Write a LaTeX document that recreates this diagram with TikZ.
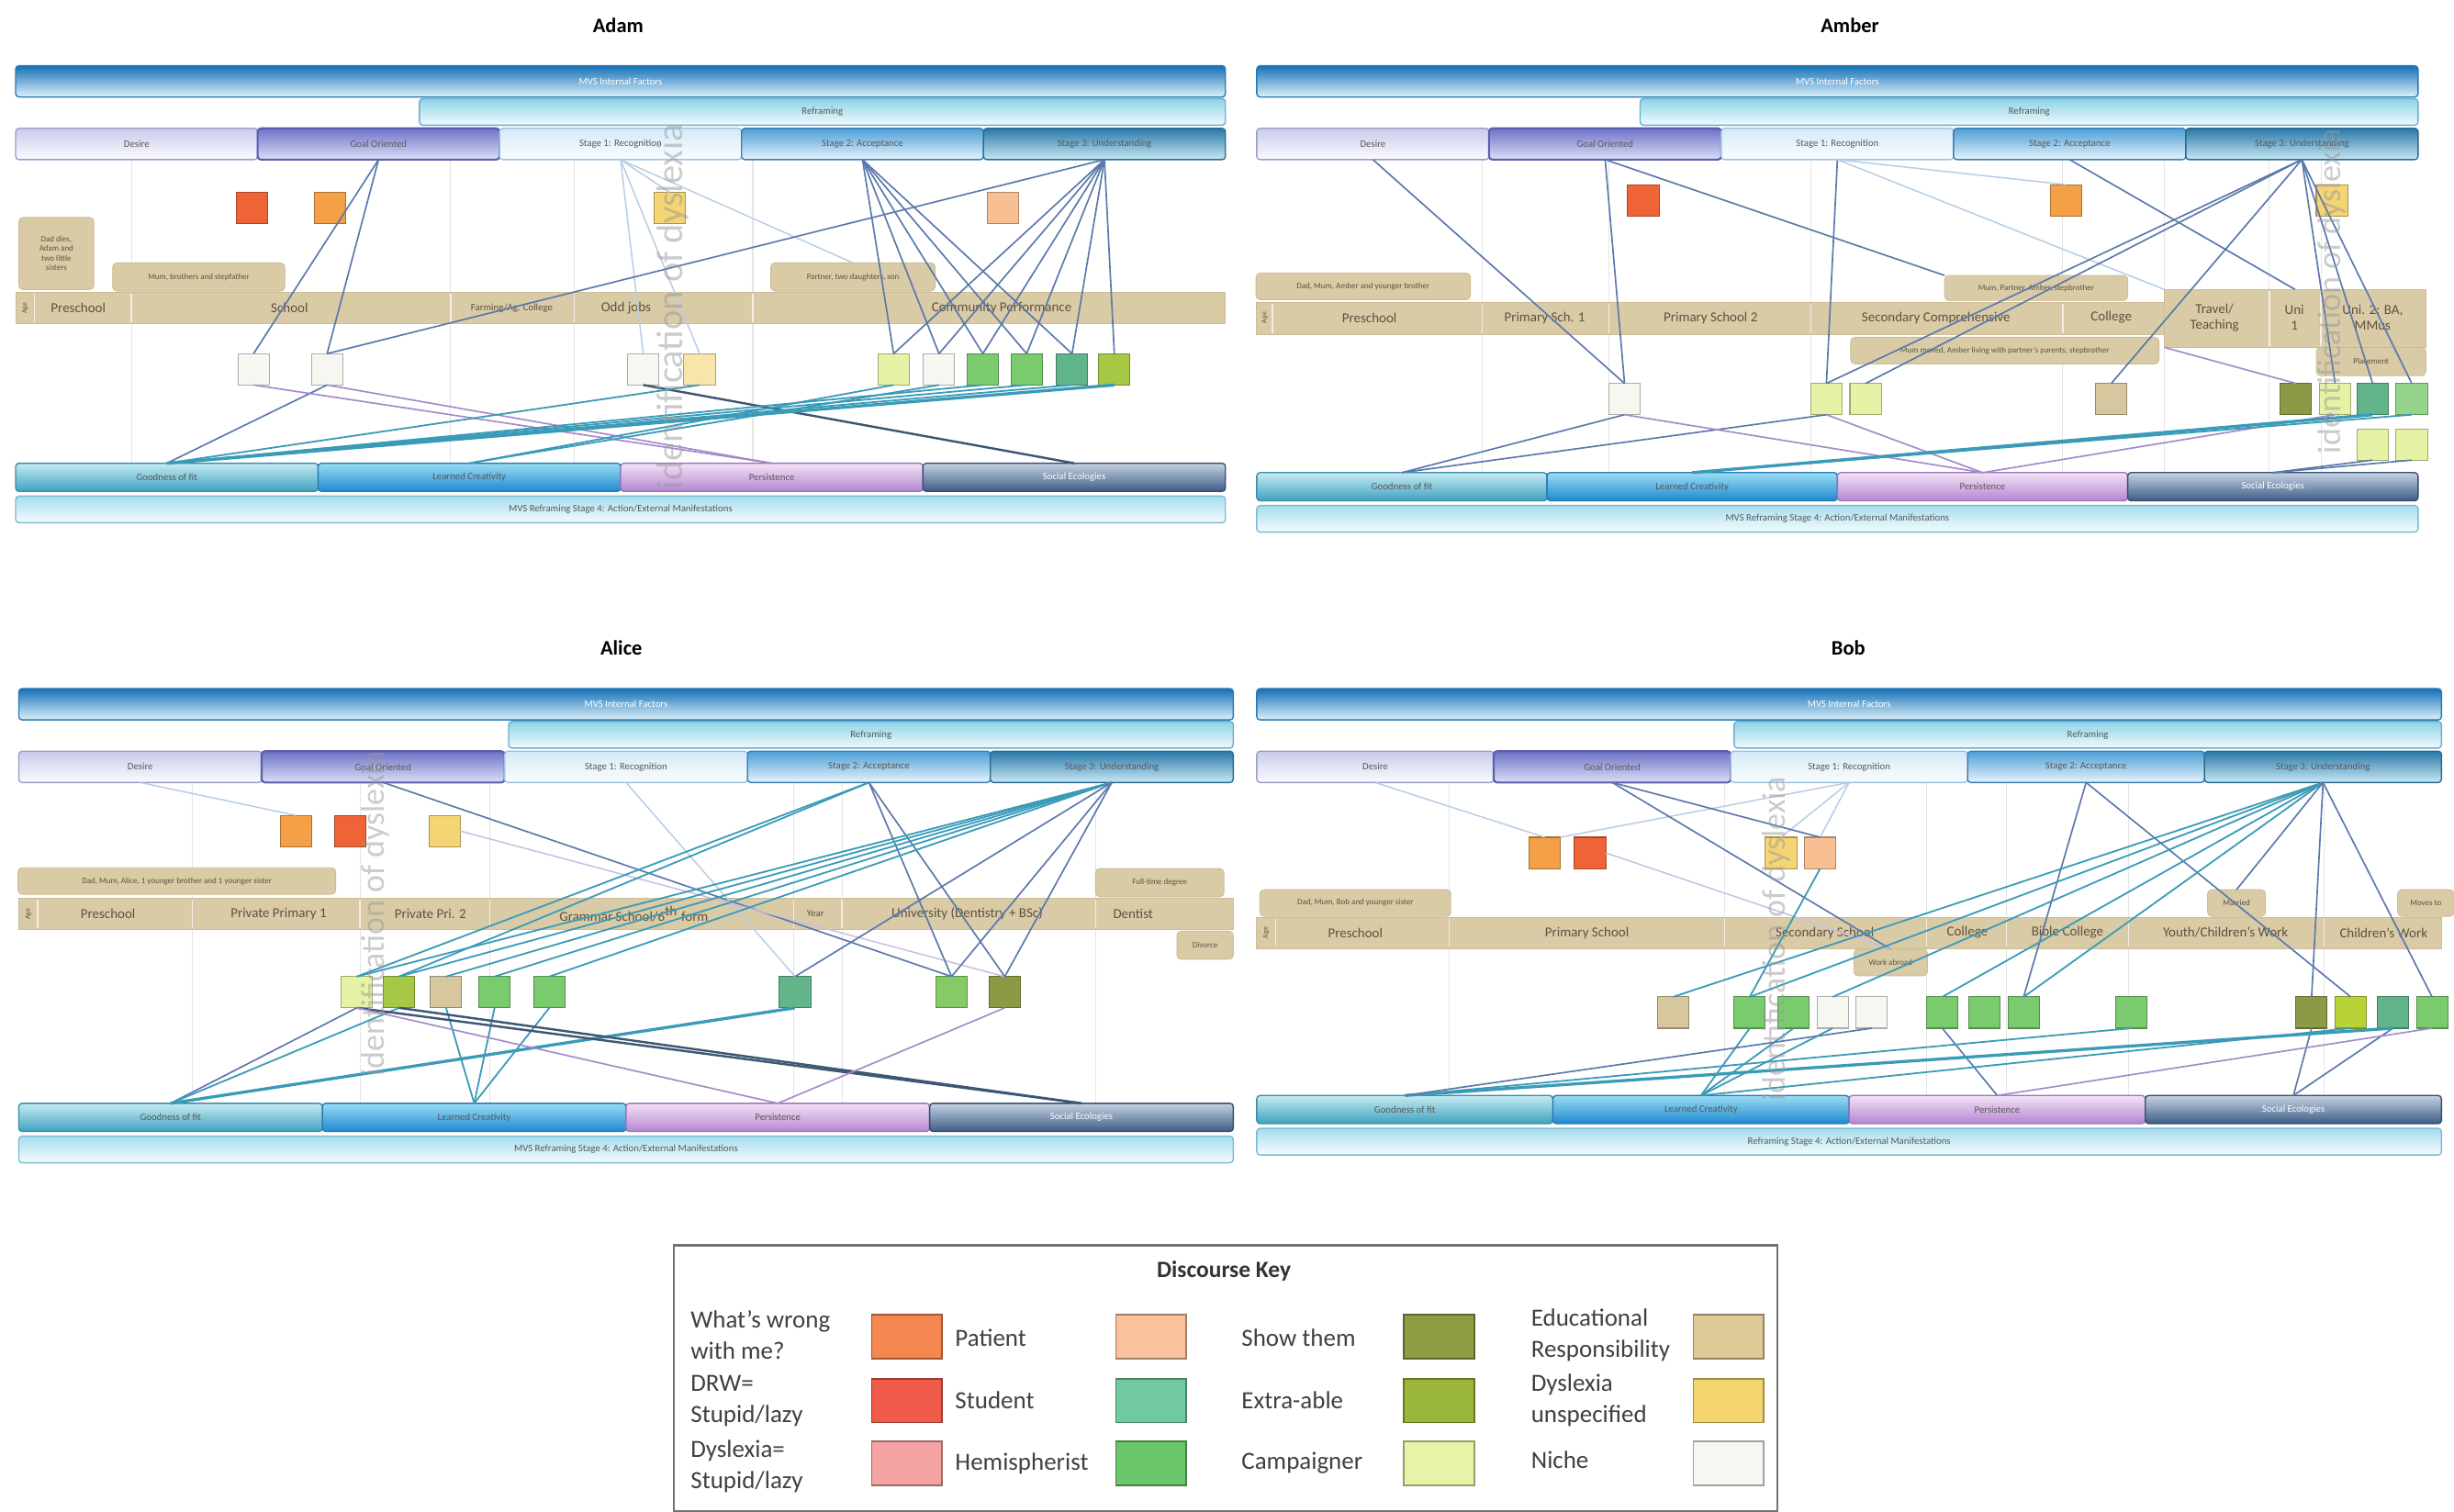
\documentclass[tikz,border=0pt]{standalone}
\usepackage{fontspec}
\setmainfont{Carlito}
\usetikzlibrary{calc}

% bar shadings
\definecolor{cTop1}{HTML}{1570B8}\definecolor{cTop2}{HTML}{5CB4E0}\definecolor{cTop3}{HTML}{DDF2FA}\definecolor{cTopE}{HTML}{2A78B0}
\definecolor{cRef1}{HTML}{8CD3E8}\definecolor{cRef2}{HTML}{F2FAFD}\definecolor{cRefE}{HTML}{6AAFCF}
\definecolor{cDes1}{HTML}{C9CBEA}\definecolor{cDes2}{HTML}{FBFBFF}\definecolor{cDesE}{HTML}{9A9CC8}
\definecolor{cGo1}{HTML}{6E72C6}\definecolor{cGo2}{HTML}{DCDEF6}\definecolor{cGoE}{HTML}{5A5EB0}
\definecolor{cS11}{HTML}{D4EAF7}\definecolor{cS12}{HTML}{FAFDFF}\definecolor{cS1E}{HTML}{9CC0DC}
\definecolor{cS21}{HTML}{4E9ED6}\definecolor{cS22}{HTML}{E6F4FB}\definecolor{cS2E}{HTML}{3A7CB4}
\definecolor{cS31}{HTML}{2A78A8}\definecolor{cS32}{HTML}{C8E8F4}\definecolor{cS3E}{HTML}{2A6890}
\definecolor{cGf1}{HTML}{C6EBF2}\definecolor{cGf2}{HTML}{3EA2C0}\definecolor{cGfE}{HTML}{3A8CA8}
\definecolor{cLc1}{HTML}{9ADCF4}\definecolor{cLc2}{HTML}{1E8AD0}\definecolor{cLcE}{HTML}{2A78B0}
\definecolor{cPe1}{HTML}{F4E2F6}\definecolor{cPe2}{HTML}{B486D2}\definecolor{cPeE}{HTML}{9A74B8}
\definecolor{cSe1}{HTML}{C6D2E2}\definecolor{cSe2}{HTML}{3C5C86}\definecolor{cSeE}{HTML}{344E70}
\definecolor{cBo1}{HTML}{A6DDEE}\definecolor{cBo2}{HTML}{F6FCFE}\definecolor{cBoE}{HTML}{7ABCD4}
\definecolor{cTan}{HTML}{D9CBA6}\definecolor{cTanE}{HTML}{CDBD96}\definecolor{cTanT}{HTML}{5E5240}
% discourse colours
\definecolor{cOr}{HTML}{F4A046}\definecolor{cRo}{HTML}{EF6436}\definecolor{cDun}{HTML}{F4D473}
\definecolor{cPat}{HTML}{F8BF93}\definecolor{cNiche}{HTML}{F7F7F2}\definecolor{cCamp}{HTML}{E6F2A6}
\definecolor{cHemi}{HTML}{7ACB6E}\definecolor{cStud}{HTML}{62B48A}\definecolor{cExtra}{HTML}{A6C845}
\definecolor{cShow}{HTML}{8C9A45}\definecolor{cEdu}{HTML}{D6C79E}
\definecolor{kWrong}{HTML}{F58750}\definecolor{kDrw}{HTML}{EF5A4A}\definecolor{kDsl}{HTML}{F5A2A2}
\definecolor{kPat}{HTML}{F9C29D}\definecolor{kStud}{HTML}{70C9A0}\definecolor{kHemi}{HTML}{6AC66A}
\definecolor{kShow}{HTML}{8E9C44}\definecolor{kExtra}{HTML}{9AB73A}\definecolor{kCamp}{HTML}{E6F4A8}
\definecolor{kEdu}{HTML}{DECA97}\definecolor{kDun}{HTML}{F5D56E}\definecolor{kNiche}{HTML}{F6F6F3}
% connector colours
\definecolor{lnblue}{HTML}{5A78AC}\definecolor{lnteal}{HTML}{3A9BB8}\definecolor{lnpurp}{HTML}{A48ACB}
\definecolor{lnlight}{HTML}{B7CDE6}\definecolor{lndark}{HTML}{3C5674}\definecolor{lnpale}{HTML}{CDBDE2}

\tikzset{
  bx/.style={inner sep=0pt, outer sep=0pt, rounded corners=1.2pt, line width=0.45pt,
    font=\fontsize{3.6}{4}\selectfont, text=black!65},
  topbar/.style={bx, draw=cTopE, top color=cTop1, middle color=cTop2, bottom color=cTop3, text=white},
  refbar/.style={bx, draw=cRefE, top color=cRef1, bottom color=cRef2},
  desbar/.style={bx, draw=cDesE, top color=cDes1, bottom color=cDes2},
  gobar/.style={bx, draw=cGoE, top color=cGo1, bottom color=cGo2, line width=0.7pt},
  s1bar/.style={bx, draw=cS1E, top color=cS11, bottom color=cS12},
  s2bar/.style={bx, draw=cS2E, top color=cS21, bottom color=cS22},
  s3bar/.style={bx, draw=cS3E, top color=cS31, bottom color=cS32},
  gfbar/.style={bx, draw=cGfE, top color=cGf1, bottom color=cGf2},
  lcbar/.style={bx, draw=cLcE, top color=cLc1, bottom color=cLc2},
  pebar/.style={bx, draw=cPeE, top color=cPe1, bottom color=cPe2},
  sebar/.style={bx, draw=cSeE, top color=cSe1, bottom color=cSe2, text=white},
  botbar/.style={bx, draw=cBoE, top color=cBo1, bottom color=cBo2},
  tline/.style={inner sep=0pt, outer sep=0pt, fill=cTan, draw=cTanE, line width=0.3pt},
  tlbl/.style={inner sep=0pt, font=\fontsize{5}{5.6}\selectfont, text=cTanT, align=center},
  agelbl/.style={inner sep=0pt, font=\fontsize{2.6}{3}\selectfont, text=cTanT, rotate=90},
  tsep/.style={draw=white!70!cTan, line width=0.5pt},
  note/.style={inner sep=1pt, outer sep=0pt, fill=cTan, draw=cTanE, line width=0.3pt, rounded corners=1.5pt,
    font=\fontsize{3}{3.5}\selectfont, text=cTanT, align=center},
  sq/.style={minimum width=4mm, minimum height=4mm, inner sep=0pt, outer sep=0pt,
    draw=#1!70!black, fill=#1, line width=0.35pt},
  ksq/.style={minimum width=9mm, minimum height=5.6mm, inner sep=0pt,
    draw=#1!65!black, fill=#1, line width=0.6pt},
  grid/.style={draw=black!10, line width=0.35pt},
  lnB/.style={draw=lnblue, line width=0.55pt},
  lnT/.style={draw=lnteal, line width=0.6pt},
  lnTT/.style={draw=lnteal, line width=1.1pt},
  lnP/.style={draw=lnpurp, line width=0.55pt},
  lnPL/.style={draw=lnpale, line width=0.5pt},
  lnL/.style={draw=lnlight, line width=0.5pt},
  lnD/.style={draw=lndark, line width=0.8pt},
  ptitle/.style={font=\bfseries\fontsize{7.5}{8}\selectfont, inner sep=0pt},
  wm/.style={font=\fontsize{12}{13}\selectfont, text=black!40, opacity=0.5, rotate=90, inner sep=0pt},
  ktxt/.style={font=\fontsize{9}{11.3}\selectfont, text=black!75, align=left, anchor=west, inner sep=0pt},
}

% a shaded bar given by its corners
\newcommand{\barbox}[7]{%
  \node[#6, anchor=north west, minimum width={(#4-(#2))*0.2mm}, minimum height={(#5-(#3))*0.2mm}] (#1) at (#2,#3) {#7};}

% the common MVS frame of one participant
\newcommand{\mvsframe}[8]{%
  \pgfmathsetmacro\fw{(#3-(#2))/5}%
  \pgfmathsetmacro\fa{#2+\fw}\pgfmathsetmacro\fb{#2+2*\fw}%
  \pgfmathsetmacro\fc{#2+3*\fw}\pgfmathsetmacro\fd{#2+4*\fw}%
  \pgfmathsetmacro\qw{(#3-(#2))/4}%
  \pgfmathsetmacro\qa{#2+\qw}\pgfmathsetmacro\qb{#2+2*\qw}\pgfmathsetmacro\qc{#2+3*\qw}%
  \pgfmathsetmacro\ya{#4+20}\pgfmathsetmacro\yb{#4+21}\pgfmathsetmacro\yc{#4+38}%
  \pgfmathsetmacro\yd{#4+40}\pgfmathsetmacro\ye{#4+60}%
  \pgfmathsetmacro\yf{#5+18}\pgfmathsetmacro\yg{#5+21}\pgfmathsetmacro\yh{#5+38}%
  \barbox{#1-top}{#2}{#4}{#3}{\ya}{topbar}{#7}%
  \barbox{#1-ref}{#6}{\yb}{#3}{\yc}{refbar}{Reframing}%
  \barbox{#1-des}{#2}{\yd}{\fa}{\ye}{desbar}{Desire}%
  \barbox{#1-go}{\fa}{\yd}{\fb}{\ye}{gobar}{Goal Oriented}%
  \barbox{#1-s1}{\fb}{\yd}{\fc}{\ye}{s1bar}{Stage 1: Recognition}%
  \barbox{#1-s2}{\fc}{\yd}{\fd}{\ye}{s2bar}{Stage 2: Acceptance}%
  \barbox{#1-s3}{\fd}{\yd}{#3}{\ye}{s3bar}{Stage 3: Understanding}%
  \barbox{#1-gf}{#2}{#5}{\qa}{\yf}{gfbar}{Goodness of fit}%
  \barbox{#1-lc}{\qa}{#5}{\qb}{\yf}{lcbar}{Learned Creativity}%
  \barbox{#1-pe}{\qb}{#5}{\qc}{\yf}{pebar}{Persistence}%
  \barbox{#1-se}{\qc}{#5}{#3}{\yf}{sebar}{Social Ecologies}%
  \barbox{#1-bot}{#2}{\yg}{#3}{\yh}{botbar}{#8}%
}

\begin{document}
\begin{tikzpicture}[x=0.2mm, y=-0.2mm]
\useasboundingbox[fill=white] (0,0) rectangle (1568,966);

% ---------------- faint life-phase guides ----------------
\foreach \gx in {84,288,367,481} \draw[grid] (\gx,102) -- (\gx,296);
\foreach \gx in {947,1028,1157,1318,1383,1450,1483} \draw[grid] (\gx,100) -- (\gx,302);
\foreach \gx in {123,230,313,507,538,700} \draw[grid] (\gx,500) -- (\gx,705);
\foreach \gx in {926,1102,1231,1282,1360,1485} \draw[grid] (\gx,500) -- (\gx,700);

% ---------------- titles ----------------
\node[ptitle] (tA) at (395,16) {Adam};
\node[ptitle] (tM) at (1182,16) {Amber};
\node[ptitle] (tL) at (397,414) {Alice};
\node[ptitle] (tB) at (1181,414) {Bob};

% ---------------- frames ----------------
\mvsframe{A}{10}{783}{42}{296}{268}{MVS Internal Factors}{MVS Reframing Stage 4: Action/External Manifestations}
\mvsframe{M}{803}{1545}{42}{302}{1048}{MVS Internal Factors}{MVS Reframing Stage 4: Action/External Manifestations}
\mvsframe{L}{12}{788}{440}{705}{325}{MVS Internal Factors}{MVS Reframing Stage 4: Action/External Manifestations}
\mvsframe{B}{803}{1560}{440}{700}{1108}{MVS Internal Factors}{Reframing Stage 4: Action/External Manifestations}

% ================= Adam =================
\barbox{A-tl}{10}{187}{783}{207}{tline}{}
\foreach \gx in {22,84,288,367,481} \draw[tsep] (\gx,188) -- (\gx,206);
\node[agelbl] (A-age) at (16,197) {Age};
\node[tlbl] (A-t1) at (50,197) {Preschool};
\node[tlbl] (A-t2) at (185,197) {School};
\node[tlbl, font=\fontsize{3.6}{4}\selectfont] (A-t3) at (327,197) {Farming/Ag. College};
\node[tlbl] (A-t4) at (400,197) {Odd jobs};
\node[tlbl] (A-t5) at (640,197) {Community Performance};
\node[note, minimum width=9.6mm, minimum height=9.2mm] (A-n1) at (36,162) {Dad dies,\\Adam and\\two little\\sisters};
\node[note, minimum width=22mm, minimum height=3.6mm] (A-n2) at (127,177) {Mum, brothers and stepfather};
\node[note, minimum width=21mm, minimum height=3.6mm] (A-n3) at (545,177) {Partner, two daughters, son};

\node[sq=cRo] (A-p1) at (161,133) {};
\node[sq=cOr] (A-p2) at (211,133) {};
\node[sq=cDun] (A-p3) at (428,133) {};
\node[sq=cPat] (A-p4) at (641,133) {};
\node[sq=cNiche] (A-q1) at (162,236) {};
\node[sq=cNiche] (A-q2) at (209,236) {};
\node[sq=cNiche] (A-q3) at (411,236) {};
\node[sq=cDun!60!white] (A-q4) at (447,236) {};
\node[sq=cCamp] (A-q5) at (571,236) {};
\node[sq=cNiche] (A-q6) at (600,236) {};
\node[sq=cHemi] (A-q7) at (628,236) {};
\node[sq=cHemi] (A-q8) at (656,236) {};
\node[sq=cStud] (A-q9) at (685,236) {};
\node[sq=cExtra] (A-q10) at (712,236) {};

\draw[lnB] (A-go.south) -- (A-q1.north);
\draw[lnB] (A-go.south) -- (A-q2.north);
\draw[lnL] (A-s1.south) -- (A-p3.north);
\draw[lnL] (A-s1.south) -- (A-q3.north);
\draw[lnL] (A-s1.south) -- (A-q4.north);
\draw[lnL] (A-s1.south) -- (A-n3.north);
\draw[lnB] (A-s3.south) -- (A-q2.north);
\foreach \q in {5,6,7,8,9} \draw[lnB] (A-s2.south) -- (A-q\q.north);
\foreach \q in {5,6,7,8,9,10} \draw[lnB] (A-s3.south) -- (A-q\q.north);
\draw[lnB] (A-q2.south) -- (A-gf.north);
\draw[lnP] (A-q1.south) -- (A-pe.north);
\draw[lnP] (A-q2.south) -- (A-pe.north);
\draw[lnD] (A-q3.south) -- (A-se.north);
\draw[lnT] (A-q4.south) -- (A-gf.north);
\foreach \q in {7,8,9} \draw[lnT] (A-q\q.south) -- (A-gf.north);
\draw[lnTT] (A-q10.south) -- (A-gf.north);
\draw[lnT] (A-q5.south) -- (A-lc.north);
\draw[lnT] (A-q6.south) -- (A-lc.north);
\node[wm, font=\fontsize{13.5}{14}\selectfont] (A-wm) at (430,196) {identification of dyslexia};

% ================= Amber =================
\barbox{M-tl}{803}{193}{1383}{214}{tline}{}
\barbox{M-tr}{1383}{185}{1550}{222}{tline}{}
\foreach \gx in {813,947,1028,1157,1318} \draw[tsep] (\gx,194) -- (\gx,213);
\foreach \gx in {1450,1483} \draw[tsep] (\gx,186) -- (\gx,221);
\node[agelbl] (M-age) at (808,203) {Age};
\node[tlbl] (M-t1) at (875,203) {Preschool};
\node[tlbl] (M-t2) at (987,203) {Primary Sch. 1};
\node[tlbl] (M-t3) at (1093,203) {Primary School 2};
\node[tlbl] (M-t4) at (1237,203) {Secondary Comprehensive};
\node[tlbl] (M-t5) at (1349,203) {College};
\node[tlbl] (M-t6) at (1415,203) {Travel/\\Teaching};
\node[tlbl] (M-t7) at (1466,203) {Uni\\1};
\node[tlbl] (M-t8) at (1516,203) {Uni. 2: BA,\\MMus};
\node[note, minimum width=27.4mm, minimum height=3.4mm] (M-n1) at (871,183) {Dad, Mum, Amber and younger brother};
\node[note, minimum width=23.4mm, minimum height=3.2mm] (M-n2) at (1301,184) {Mum, Partner, Amber, stepbrother};
\node[note, minimum width=39.4mm, minimum height=3.4mm] (M-n3) at (1281,224) {Mum moved, Amber living with partner's parents, stepbrother};
\node[note, minimum width=14mm, minimum height=3.6mm] (M-n4) at (1515,231) {Placement};

\node[sq=cRo] (M-p1) at (1050,128) {};
\node[sq=cOr] (M-p2) at (1320,128) {};
\node[sq=cDun] (M-p3) at (1490,128) {};
\node[sq=cNiche] (M-q1) at (1038,255) {};
\node[sq=cCamp] (M-q2) at (1167,255) {};
\node[sq=cCamp] (M-q3) at (1192,255) {};
\node[sq=cEdu] (M-q4) at (1349,255) {};
\node[sq=cShow] (M-q5) at (1467,255) {};
\node[sq=cCamp] (M-q6) at (1492,255) {};
\node[sq=cStud] (M-q7) at (1516,255) {};
\node[sq=cHemi!80!white] (M-q8) at (1541,255) {};
\node[sq=cCamp] (M-q9) at (1516,284) {};
\node[sq=cCamp] (M-q10) at (1541,284) {};

\draw[lnB] (M-des.south) -- (M-q1.north);
\draw[lnB] (M-go.south) -- (M-q1.north);
\draw[lnB] (M-go.south) -- (M-n2.north west);
\draw[lnB] (M-s1.south) -- (M-q2.north);
\draw[lnL] (M-s1.south) -- (M-tr.north west);
\draw[lnL] (M-s1.south) -- (M-p2.north);
\draw[lnB] (M-s2.south) -- (M-tr.north);
\foreach \q in {2,3,4,6,7,8} \draw[lnB] (M-s3.south) -- (M-q\q.north);
\draw[lnB] (M-q1.south) -- (M-gf.north);
\draw[lnB] (M-q2.south) -- (M-gf.north);
\draw[lnP] (M-q1.south) -- (M-pe.north);
\draw[lnP] (M-q2.south) -- (M-pe.north);
\draw[lnP] (M-q6.south) -- (M-pe.north);
\draw[lnTT] (M-q7.south) -- (M-lc.north);
\draw[lnT] (M-q8.south) -- (M-lc.north);
\draw[lnP] (M-tr.south west) -- (M-q5.north);
\draw[lnB] (M-q9.south) -- (M-se.north);
\draw[lnB] (M-q10.south) -- (M-se.north);
\node[wm] (M-wm) at (1490,186) {identification of dyslexia};

% ================= Alice =================
\barbox{L-tl}{12}{574}{788}{594}{tline}{}
\foreach \gx in {24,123,230,313,507,538,700} \draw[tsep] (\gx,575) -- (\gx,593);
\node[agelbl] (L-age) at (18,584) {Age};
\node[tlbl] (L-t1) at (69,584) {Preschool};
\node[tlbl] (L-t2) at (178,584) {Private Primary 1};
\node[tlbl] (L-t3) at (275,584) {Private Pri. 2};
\node[tlbl] (L-t4) at (405,584) {Grammar School/6\textsuperscript{th} form};
\node[tlbl, font=\fontsize{3.6}{4}\selectfont] (L-t5) at (521,584) {Year};
\node[tlbl] (L-t6) at (618,584) {University (Dentistry + BSc)};
\node[tlbl] (L-t7) at (724,584) {Dentist};
\node[note, minimum width=40.6mm, minimum height=3.4mm] (L-n1) at (113,563) {Dad, Mum, Alice, 1 younger brother and 1 younger sister};
\node[note, minimum width=16.4mm, minimum height=3.6mm] (L-n2) at (741,564) {Full-time degree};
\node[note, minimum width=7.2mm, minimum height=3.6mm] (L-n3) at (770,604) {Divorce};

\node[sq=cOr] (L-p1) at (189,531) {};
\node[sq=cRo] (L-p2) at (224,531) {};
\node[sq=cDun] (L-p3) at (284,531) {};
\node[sq=cCamp] (L-q1) at (228,634) {};
\node[sq=cExtra] (L-q2) at (255,634) {};
\node[sq=cEdu] (L-q3) at (285,634) {};
\node[sq=cHemi] (L-q4) at (316,634) {};
\node[sq=cHemi] (L-q5) at (351,634) {};
\node[sq=cStud] (L-q6) at (508,634) {};
\node[sq=cHemi!75!cExtra] (L-q7) at (608,634) {};
\node[sq=cShow] (L-q8) at (642,634) {};

\draw[lnL] (L-des.south) -- (L-p1.north);
\draw[lnB] (L-go.south) -- (L-q7.north);
\draw[lnL] (L-s1.south) -- (L-q6.north);
\draw[lnPL] (L-p3.east) -- (L-q8.north);
\foreach \q in {7,8} \draw[lnB] (L-s2.south) -- (L-q\q.north);
\foreach \q in {1,2} \draw[lnT] (L-s2.south) -- (L-q\q.north);
\foreach \q in {1,2,3,4,5} \draw[lnT] (L-s3.south) -- (L-q\q.north);
\foreach \q in {6,7,8} \draw[lnB] (L-s3.south) -- (L-q\q.north);
\draw[lnB] (L-q1.south) -- (L-gf.north);
\draw[lnT] (L-q2.south) -- (L-gf.north);
\draw[lnTT] (L-q6.south) -- (L-gf.north);
\foreach \q in {3,4,5} \draw[lnT] (L-q\q.south) -- (L-lc.north);
\draw[lnD] (L-q1.south) -- (L-se.north);
\draw[lnD] (L-q2.south) -- (L-se.north);
\draw[lnP] (L-q1.south) -- (L-pe.north);
\draw[lnP] (L-q8.south) -- (L-pe.north);
\node[wm] (L-wm) at (240,584) {identification of dyslexia};

% ================= Bob =================
\barbox{B-tl}{803}{586}{1560}{606}{tline}{}
\foreach \gx in {815,926,1102,1231,1282,1360,1485} \draw[tsep] (\gx,587) -- (\gx,605);
\node[agelbl] (B-age) at (809,596) {Age};
\node[tlbl] (B-t1) at (866,596) {Preschool};
\node[tlbl] (B-t2) at (1014,596) {Primary School};
\node[tlbl] (B-t3) at (1166,596) {Secondary School};
\node[tlbl] (B-t4) at (1257,596) {College};
\node[tlbl] (B-t5) at (1321,596) {Bible College};
\node[tlbl] (B-t6) at (1422,596) {Youth/Children's Work};
\node[tlbl] (B-t7) at (1523,596) {Children's Work};
\node[note, minimum width=24.4mm, minimum height=3.4mm] (B-n1) at (866,577) {Dad, Mum, Bob and younger sister};
\node[note, minimum width=7.4mm, minimum height=3.4mm] (B-n2) at (1429,577) {Married};
\node[note, minimum width=7.2mm, minimum height=3.4mm] (B-n3) at (1550,577) {Moves to};
\node[note, minimum width=9.4mm, minimum height=3.4mm] (B-n4) at (1208,615) {Work abroad};

\node[sq=cOr] (B-p1) at (987,545) {};
\node[sq=cRo] (B-p2) at (1016,545) {};
\node[sq=cDun] (B-p3) at (1138,545) {};
\node[sq=cPat] (B-p4) at (1163,545) {};
\node[sq=cEdu] (B-q1) at (1069,647) {};
\node[sq=cHemi] (B-q2) at (1118,647) {};
\node[sq=cHemi] (B-q3) at (1146,647) {};
\node[sq=cNiche] (B-q4) at (1171,647) {};
\node[sq=cNiche] (B-q5) at (1196,647) {};
\node[sq=cHemi] (B-q6) at (1241,647) {};
\node[sq=cHemi] (B-q7) at (1268,647) {};
\node[sq=cHemi] (B-q8) at (1293,647) {};
\node[sq=cHemi] (B-q9) at (1362,647) {};
\node[sq=cShow] (B-q10) at (1477,647) {};
\node[sq=cExtra!80!yellow] (B-q11) at (1502,647) {};
\node[sq=cStud] (B-q12) at (1529,647) {};
\node[sq=cHemi] (B-q13) at (1554,647) {};

\draw[lnL] (B-des.south) -- (B-p1.north);
\draw[lnL] (B-p1.north east) -- (B-s1.south);
\draw[lnL] (B-s1.south) -- (B-p3.north);
\draw[lnL] (B-s1.south) -- (B-p4.north);
\draw[lnB] (B-go.south) -- (B-p4.north);
\draw[lnB] (B-go.south) -- (B-n4.north);
\draw[lnPL] (B-p2.east) -- (B-n4.north);
\draw[lnT] (B-p4.south) -- (B-q2.north);
\draw[lnB] (B-s2.south) -- (B-q8.north);
\draw[lnB] (B-s2.south) -- (B-q11.north);
\foreach \q in {1,2,4,6,8} \draw[lnT] (B-s3.south) -- (B-q\q.north);
\draw[lnB] (B-s3.south) -- (B-n2.north);
\draw[lnB] (B-s3.south) -- (B-q10.north);
\draw[lnB] (B-s3.south) -- (B-q13.north);
\draw[lnB] (B-q10.south) -- (B-se.north);
\draw[lnB] (B-q12.south) -- (B-se.north);
\draw[lnB] (B-q6.south) -- (B-pe.north);
\draw[lnP] (B-q13.south) -- (B-pe.north);
\foreach \q in {2,3,4} \draw[lnT] (B-q\q.south) -- (B-lc.north);
\draw[lnT] (B-q11.south) -- (B-lc.north);
\draw[lnT] (B-q9.south) -- (B-gf.north);
\draw[lnTT] (B-q12.south) -- (B-gf.north);
\draw[lnB] (B-q5.south) -- (B-gf.north);
\node[wm] (B-wm) at (1135,600) {identification of dyslexia};

% ================= key =================
\node[draw=black!55, line width=0.8pt, anchor=north west, minimum width={705*0.2mm}, minimum height={170*0.2mm}, inner sep=0pt] (key) at (430,795) {};
\node[font=\bfseries\fontsize{8.5}{10}\selectfont, text=black!80] (key-t) at (782,812) {Discourse Key};
\node[ktxt] (k-l1) at (441,853) {What's wrong\\with me?};
\node[ktxt] (k-l2) at (441,895) {DRW=\\Stupid/lazy};
\node[ktxt] (k-l3) at (441,937) {Dyslexia=\\Stupid/lazy};
\node[ksq=kWrong] (k-b1) at (579.5,854) {};
\node[ksq=kDrw] (k-b2) at (579.5,895) {};
\node[ksq=kDsl] (k-b3) at (579.5,935) {};
\node[ktxt] (k-l4) at (610,855) {Patient};
\node[ktxt] (k-l5) at (610,895) {Student};
\node[ktxt] (k-l6) at (610,935) {Hemispherist};
\node[ksq=kPat] (k-b4) at (735.5,854) {};
\node[ksq=kStud] (k-b5) at (735.5,895) {};
\node[ksq=kHemi] (k-b6) at (735.5,935) {};
\node[ktxt] (k-l7) at (793,855) {Show them};
\node[ktxt] (k-l8) at (793,895) {Extra-able};
\node[ktxt] (k-l9) at (793,935) {Campaigner};
\node[ksq=kShow] (k-b7) at (919.5,854) {};
\node[ksq=kExtra] (k-b8) at (919.5,895) {};
\node[ksq=kCamp] (k-b9) at (919.5,935) {};
\node[ktxt] (k-l10) at (978,853) {Educational\\Responsibility};
\node[ktxt] (k-l11) at (978,895) {Dyslexia\\unspecified};
\node[ktxt] (k-l12) at (978,933) {Niche};
\node[ksq=kEdu] (k-b10) at (1104.5,854) {};
\node[ksq=kDun] (k-b11) at (1104.5,895) {};
\node[ksq=kNiche] (k-b12) at (1104.5,935) {};
\end{tikzpicture}
\end{document}
